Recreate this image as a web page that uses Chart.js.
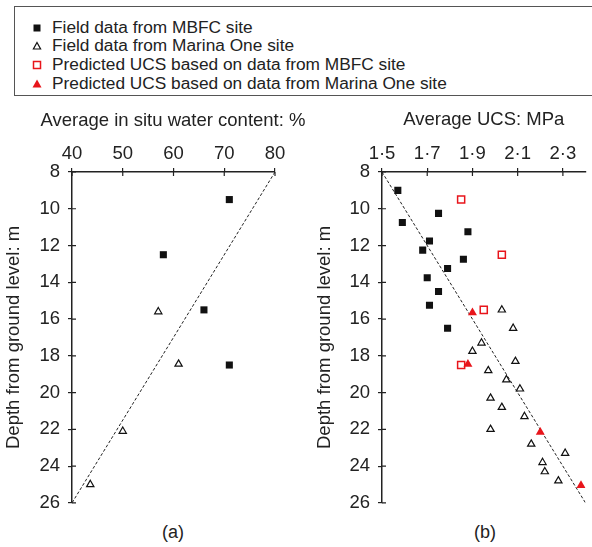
<!DOCTYPE html>
<html><head><meta charset="utf-8">
<script src="https://cdn.jsdelivr.net/npm/chart.js@4/dist/chart.umd.min.js"></script>
<style>
body{margin:0;background:#fff;width:592px;height:547px;position:relative;overflow:hidden;font-family:"Liberation Sans",Arial,sans-serif;color:#222;}
#legend{position:absolute;left:14px;top:6px;width:620px;height:90px;border:1.5px solid #555;box-sizing:border-box;}
.row{position:absolute;left:0;height:19px;font-size:17.3px;line-height:19px;white-space:nowrap;}
.row svg{position:absolute;left:17px;top:5px;}
.row span{position:absolute;left:37px;top:0;}
canvas{position:absolute;}
.lab{position:absolute;font-size:18px;width:60px;text-align:center;}
.ttl{position:absolute;font-size:18.5px;line-height:22px;text-align:center;white-space:nowrap;}
</style></head>
<body>
<div id="legend"></div>
<canvas id="ca" width="296" height="422" style="left:0;top:100px"></canvas>
<canvas id="cb" width="282" height="422" style="left:310px;top:100px"></canvas>
<div class="ttl" id="ta" style="left:23px;width:300px;top:109px"></div>
<div class="lab" style="left:143px;top:522px">(a)</div>
<div class="lab" style="left:455px;top:522px">(b)</div>
<script>
// ---- Data ----
const legendLabels = ["Field data from MBFC site","Field data from Marina One site","Predicted UCS based on data from MBFC site","Predicted UCS based on data from Marina One site"];
const titleA = "Average in situ water content: %";
const titleB = "Average UCS: MPa";
const titleY = "Depth from ground level: m";

// (a) water content (%) vs depth (m)
const aMbfcWater = [71, 58, 66, 71];
const aMbfcDepth = [9.5, 12.5, 15.5, 18.5];
const aMarinaWater = [57, 61, 50, 43.6];
const aMarinaDepth = [15.6, 18.45, 22.1, 25.0];
const aTrendWater = [80, 40];
const aTrendDepth = [8, 26];
const aXTicks = [40, 50, 60, 70, 80];
const aXTickLabels = ["40","50","60","70","80"];

// (b) UCS (MPa) vs depth (m)
const bMbfcUcs = [1.57, 1.59, 1.75, 1.88, 1.71, 1.68, 1.86, 1.79, 1.70, 1.75, 1.71, 1.79];
const bMbfcDepth = [9.0, 10.75, 10.25, 11.25, 11.75, 12.25, 12.75, 13.25, 13.75, 14.5, 15.25, 16.5];
const bMarinaUcs = [2.03, 2.08, 1.94, 1.90, 2.09, 1.97, 2.05, 2.11, 1.98, 2.03, 2.13, 1.98, 2.16, 2.31, 2.21, 2.22, 2.28];
const bMarinaDepth = [15.5, 16.5, 17.3, 17.75, 18.3, 18.8, 19.3, 19.8, 20.3, 20.8, 21.3, 22.0, 22.8, 23.3, 23.8, 24.3, 24.8];
const bPredMbfcUcs = [1.85, 2.03, 1.95, 1.85];
const bPredMbfcDepth = [9.5, 12.5, 15.5, 18.5];
const bPredMarinaUcs = [1.90, 1.88, 2.20, 2.38];
const bPredMarinaDepth = [15.65, 18.45, 22.15, 25.05];
const bTrendUcs = [1.5, 2.4];
const bTrendDepth = [8, 26];
const bXTicks = [1.5, 1.7, 1.9, 2.1, 2.3];
const bXTickLabels = ["1·5","1·7","1·9","2·1","2·3"];

const yTicks = [8,10,12,14,16,18,20,22,24,26];

// ---- Legend ----
const markers = [
  '<svg width="10" height="10"><rect x="1.5" y="1.5" width="7" height="7" fill="#111"/></svg>',
  '<svg width="10" height="10"><polygon points="5,1.5 8.6,8 1.4,8" fill="#fff" stroke="#111" stroke-width="1.2"/></svg>',
  '<svg width="10" height="10"><rect x="1.5" y="1.5" width="7" height="7" fill="#fff" stroke="#e8151b" stroke-width="1.5"/></svg>',
  '<svg width="10" height="10"><polygon points="5,0.5 9.5,8.5 0.5,8.5" fill="#e8151b"/></svg>'
];
const lg = document.getElementById('legend');
legendLabels.forEach((t,i)=>{
  const r = document.createElement('div');
  r.className='row';
  r.style.top = (10.5 + i*18.7) + 'px';
  r.innerHTML = markers[i] + '<span>' + t + '</span>';
  lg.appendChild(r);
});
document.getElementById('ta').textContent = titleA;

// ---- Charts ----
const FONT = {family:'"Liberation Sans", Arial, sans-serif', size:18.5};
const INK = '#222';
const zip = (xs, ys) => xs.map((x,i)=>({x, y: ys[i]}));

const innerTicks = {
  id:'innerTicks',
  afterDraw(chart){
    const ctx = chart.ctx, ca = chart.chartArea;
    const xs = chart.scales.x, ys = chart.scales.y;
    ctx.save();
    ctx.strokeStyle = INK; ctx.lineWidth = 1.2;
    ctx.beginPath();
    xs.ticks.forEach(t=>{ const px = xs.getPixelForValue(t.value); ctx.moveTo(px, ca.top); ctx.lineTo(px, ca.top+4); });
    ys.ticks.forEach(t=>{ const py = ys.getPixelForValue(t.value); ctx.moveTo(ca.left, py); ctx.lineTo(ca.left+4, py); });
    ctx.stroke();
    ctx.restore();
  }
};

function makeChart(id, datasets, xOpts, padRight){
  return new Chart(document.getElementById(id), {
    type:'scatter',
    data:{datasets},
    options:{
      responsive:false, maintainAspectRatio:false, devicePixelRatio:1, animation:false,
      layout:{padding:{left:0, top:0, right:padRight, bottom:12}},
      plugins:{legend:{display:false}, tooltip:{enabled:false}},
      scales:{
        x:Object.assign({
          type:'linear', position:'top',
          grid:{display:true, drawOnChartArea:false, drawTicks:true, tickLength:4, color:INK, lineWidth:1.2},
          border:{display:true, color:INK, width:1.5},
          afterFit:(s)=>{ s.height = 72; }
        }, xOpts),
        y:{
          type:'linear', reverse:true, min:8, max:26,
          afterBuildTicks:(s)=>{ s.ticks = yTicks.map(v=>({value:v})); },
          ticks:{font:FONT, color:INK, padding:8, callback:(v)=>String(v)},
          grid:{display:true, drawOnChartArea:false, drawTicks:true, tickLength:4, color:INK, lineWidth:1.2},
          border:{display:true, color:INK, width:1.5},
          title:{display:true, text:titleY, font:FONT, color:INK, padding:{top:id==='ca'?3:4, bottom:0}},
          afterFit:(s)=>{ s.width = 72; }
        }
      }
    },
    plugins:[innerTicks]
  });
}

const trendStyle = {type:'line', showLine:true, borderColor:'#222', borderWidth:1, borderDash:[3,2], pointRadius:0, fill:false, order:10};

makeChart('ca', [
  Object.assign({label:'trend', data:zip(aTrendWater, aTrendDepth)}, trendStyle),
  {label:legendLabels[0], data:zip(aMbfcWater, aMbfcDepth), pointStyle:'rect', pointRadius:5, backgroundColor:'#111', borderColor:'#111', borderWidth:0, order:1},
  {label:legendLabels[1], data:zip(aMarinaWater, aMarinaDepth), pointStyle:'triangle', pointRadius:4.2, backgroundColor:'#fff', borderColor:'#111', borderWidth:1.2, order:1}
], {
  min:40, max:80,
  afterBuildTicks:(s)=>{ s.ticks = aXTicks.map(v=>({value:v})); },
  ticks:{font:FONT, color:INK, padding:3, maxRotation:0, callback:(v,i)=>aXTickLabels[i]},
  title:{display:false}
}, 21);

makeChart('cb', [
  Object.assign({label:'trend', data:zip(bTrendUcs, bTrendDepth)}, trendStyle),
  {label:legendLabels[0], data:zip(bMbfcUcs, bMbfcDepth), pointStyle:'rect', pointRadius:5, backgroundColor:'#111', borderColor:'#111', borderWidth:0, order:1},
  {label:legendLabels[1], data:zip(bMarinaUcs, bMarinaDepth), pointStyle:'triangle', pointRadius:4.2, backgroundColor:'#fff', borderColor:'#111', borderWidth:1.2, order:1},
  {label:legendLabels[2], data:zip(bPredMbfcUcs, bPredMbfcDepth), pointStyle:'rect', pointRadius:5, backgroundColor:'#fff', borderColor:'#e8151b', borderWidth:1.5, order:1},
  {label:legendLabels[3], data:zip(bPredMarinaUcs, bPredMarinaDepth), pointStyle:'triangle', pointRadius:5.2, backgroundColor:'#e8151b', borderColor:'#e8151b', borderWidth:0, order:0}
], {
  min:1.5, max:2.4,
  afterBuildTicks:(s)=>{ s.ticks = bXTicks.map(v=>({value:v})); },
  ticks:{font:FONT, color:INK, padding:3, maxRotation:0, callback:(v,i)=>bXTickLabels[i]},
  title:{display:true, text:titleB, font:FONT, color:INK, padding:{top:9, bottom:0}}
}, 6);
</script>
</body></html>
